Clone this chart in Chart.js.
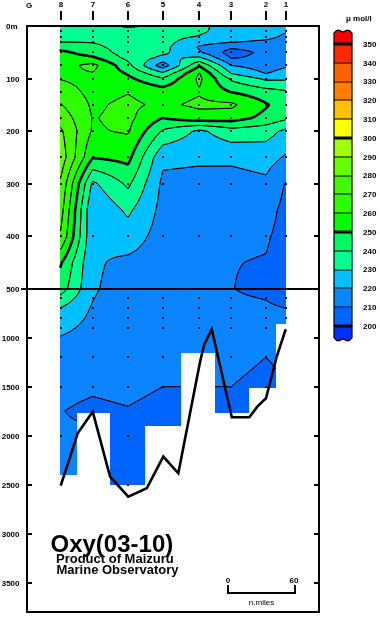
<!DOCTYPE html>
<html><head><meta charset="utf-8">
<script src="https://cdn.jsdelivr.net/npm/chart.js@4/dist/chart.umd.min.js"></script>
<style>html,body{margin:0;padding:0;background:#fff}canvas{display:block}</style>
</head><body>
<canvas id="c" width="380" height="619"></canvas>
<script>
// ---------------- data ----------------
const stationNames = ['8','7','6','5','4','3','2','1'];
const stationDist = [0, 27.7, 58.3, 88.3, 120.0, 147.7, 177.7, 194.6];      // n.miles from station 8
const stationMaxDepth = [2400, 1770, 2500, 1900, 1160, 1765, 1510, 863];    // m
const levels = [0,10,20,30,40,50,60,75,90,100,125,150,175,200,250,300,350,400,450,500,600,700,800,900,1000,1200,1500,1750,2000,2500];
const oxySt8 = [236,237,238,239.6,246,252,254,256,258,259.5,265,270.5,276,281.5,286,278.5,274,269,251,245,237,229.5,226,222.5,219.5,216,212,210.2,211,212];
const oxySt7 = [235,235.5,237,239.5,242,246,251,263,259.5,256.5,257,258.5,259.5,259,250.5,228,220.5,221,221.2,221,220.3,219,218,217,216,214,211,208.5,211,211.5];
const oxySt6 = [228,236,237,237,236,235,237,243,249,252,259.5,262,262.5,261,253,242,232,225,218,216,214.5,214,213.5,213,213,212.5,212,209.5,208.5,208];
const oxySt5 = [233,233,233.5,233.5,233,232,228,214,232,241,255,258,250,239,222,218,217,216,215.5,215,214.5,214,214,213.5,213.5,213,210,207.5,207,207];
const oxySt4 = [232,231.5,229.5,224,219,221,231,249,260.5,262,259,262,256,228,221.5,217,216,215.5,215,214.5,214,214,213.5,213,213,212,210,208,208,208];
const oxySt3 = [226,226,225.5,221,212,205.5,209,220,229.5,238,249.5,262,254.5,236,222,216,213,211.5,210.3,210.2,211,211.5,212,212,212,211.5,210,208,208,208];
const oxySt2 = [226,225,223.5,218,214,212.5,212.5,215,219.5,228,244,251,247,234,224,218,213.5,211,209.5,208,209.8,211,211.5,211.5,211,210,208.5,208,208,208];
const oxySt1 = [224,221,218,216,215,213.5,214,218.5,224,228.5,241,245,242,228,219,209.5,207.5,207,206.5,206,208,210,211,211.5,211.5,211,210,208,208,208];
const sampleDepths = [10,20,30,50,75,100,125,150,175,200,250,300,400,500,600,700,800,900,1200,1500,2000,2500];
const bottomDist  = [0, 14.7, 27.7, 42.7, 58.5, 74.5, 88.8, 101.8, 120.6, 124.1, 130.7, 148.1, 163.3, 170.2, 177.7, 187.0, 194.8];
const bottomDepth = [2510, 1976, 1755, 2418, 2622, 2537, 2214, 2384, 1248, 1074, 914, 1812, 1812, 1704, 1618, 1194, 914];
const contourLevels = [200,210,220,230,240,250,260,270,280,290,300,310,320,330,340,350];
const thickLevels = [200,250,300,350];
const bandColors = ['#0030FF','#0064FF','#0A84FF','#00C0FF','#00FF90','#00F860','#00FF00','#2CFF00','#44F800','#66FF00','#A0FF00','#FFFF00','#FFC000','#FF8000','#FF6000','#FF2800','#FF0000'];
const depthTicks = [0,100,200,300,400,500,1000,1500,2000,2500,3000,3500];
const scaleBarStart = 143.7, scaleBarLength = 60;

// ---------------- split depth scale ----------------
const K = 0.1865;
const warp = d => d <= 500 ? d : 500 + (d - 500) * K;
const unwarp = u => u <= 500 ? u : 500 + (u - 500) / K;
const BaseLinear = Chart.LinearScale || Chart.registry.getScale('linear');
class SplitDepthScale extends BaseLinear {
  getPixelForValue(value) {
    const a = warp(this.min), b = warp(this.max);
    return this.top + (warp(value) - a) / (b - a) * (this.bottom - this.top);
  }
  getValueForPixel(pixel) {
    const a = warp(this.min), b = warp(this.max);
    return unwarp(a + (pixel - this.top) / (this.bottom - this.top) * (b - a));
  }
}
SplitDepthScale.id = 'splitDepth';
SplitDepthScale.defaults = BaseLinear.defaults;
Chart.register(SplitDepthScale);

const FONT = '"Liberation Sans", Arial, sans-serif';

function hexRgb(h){return [parseInt(h.slice(1,3),16),parseInt(h.slice(3,5),16),parseInt(h.slice(5,7),16)];}

const sectionPlugin = {
  id: 'section',
  beforeDatasetsDraw(chart) {
    const {ctx, chartArea: ca, scales} = chart;
    const xs = scales.x, ys = scales.y;
    const profiles = [oxySt8, oxySt7, oxySt6, oxySt5, oxySt4, oxySt3, oxySt2, oxySt1];
    const n = stationDist.length, L = levels.length;
    const sx = stationDist.map(d => xs.getPixelForValue(d));
    const ly = levels.map(d => ys.getPixelForValue(d));
    const colL = sx.map((x,k) => k === 0 ? x - 0.5 : (sx[k-1] + x) / 2);
    const colR = sx.map((x,k) => k === n-1 ? x + 0.5 : (x + sx[k+1]) / 2);
    const colB = stationMaxDepth.map(d => ys.getPixelForValue(d));
    const ox = Math.floor(colL[0]), oy = Math.floor(ca.top);
    const W = Math.ceil(colR[n-1]) - ox + 1;
    const H = Math.ceil(Math.max(...colB)) - oy + 1;
    const F = new Float32Array(W*H), M = new Uint8Array(W*H);
    for (let j = 0; j < H; j++) {
      const py = oy + j + 0.5;
      let lj = 0; while (lj < L-2 && py > ly[lj+1]) lj++;
      let fy = (py - ly[lj]) / (ly[lj+1] - ly[lj]); fy = Math.max(0, Math.min(1, fy));
      let si = 0;
      for (let i = 0; i < W; i++) {
        const px = ox + i + 0.5;
        while (si < n-2 && px > sx[si+1]) si++;
        let fx = (px - sx[si]) / (sx[si+1] - sx[si]); fx = Math.max(0, Math.min(1, fx));
        const p0 = profiles[si], p1 = profiles[si+1];
        const t = p0[lj]*(1-fx) + p1[lj]*fx;
        const b = p0[lj+1]*(1-fx) + p1[lj+1]*fx;
        const k = j*W + i;
        F[k] = t*(1-fy) + b*fy;
        let inside = false;
        if (py >= ca.top) {
          for (let c = 0; c < n; c++) if (px >= colL[c] && px < colR[c]) { inside = py <= colB[c]; break; }
        }
        M[k] = inside ? 1 : 0;
      }
    }
    const off = document.createElement('canvas'); off.width = W; off.height = H;
    const octx = off.getContext('2d'); const img = octx.createImageData(W, H);
    const rgb = bandColors.map(hexRgb);
    for (let k = 0; k < W*H; k++) {
      if (!M[k]) continue;
      let idx = 0; while (idx < contourLevels.length && F[k] >= contourLevels[idx]) idx++;
      const c = rgb[idx];
      img.data[4*k] = c[0]; img.data[4*k+1] = c[1]; img.data[4*k+2] = c[2]; img.data[4*k+3] = 255;
    }
    octx.putImageData(img, 0, 0);
    ctx.drawImage(off, ox, oy);

    // contour lines (marching squares)
    ctx.save();
    ctx.strokeStyle = '#000';
    ctx.lineCap = 'round'; ctx.lineJoin = 'round';
    for (const t of contourLevels) {
      ctx.beginPath();
      for (let j = 0; j < H-1; j++) for (let i = 0; i < W-1; i++) {
        const k = j*W + i;
        if (!M[k] || !M[k+1] || !M[k+W] || !M[k+W+1]) continue;
        const a = F[k], b = F[k+1], c = F[k+W+1], d = F[k+W];
        const idx = (a>=t?8:0)|(b>=t?4:0)|(c>=t?2:0)|(d>=t?1:0);
        if (idx === 0 || idx === 15) continue;
        const x = ox + i + 0.5, y = oy + j + 0.5;
        const T = () => [x + (t-a)/(b-a), y];
        const R = () => [x+1, y + (t-b)/(c-b)];
        const B = () => [x + (t-d)/(c-d), y+1];
        const Lf = () => [x, y + (t-a)/(d-a)];
        const seg = (p, q) => { ctx.moveTo(p[0], p[1]); ctx.lineTo(q[0], q[1]); };
        const center = (a+b+c+d)/4 >= t;
        switch (idx) {
          case 1: case 14: seg(Lf(), B()); break;
          case 2: case 13: seg(B(), R()); break;
          case 3: case 12: seg(Lf(), R()); break;
          case 4: case 11: seg(T(), R()); break;
          case 6: case 9: seg(T(), B()); break;
          case 7: case 8: seg(T(), Lf()); break;
          case 5: if (center) { seg(T(), Lf()); seg(R(), B()); } else { seg(T(), R()); seg(Lf(), B()); } break;
          case 10: if (center) { seg(T(), R()); seg(Lf(), B()); } else { seg(T(), Lf()); seg(R(), B()); } break;
        }
      }
      ctx.lineWidth = thickLevels.includes(t) ? 2.6 : 1;
      ctx.stroke();
    }
    // sample dots
    ctx.fillStyle = '#000';
    for (let s = 0; s < n; s++) {
      for (const d of sampleDepths) {
        if (d > stationMaxDepth[s] + 30) continue;
        const px = Math.round(sx[s]), py = Math.round(ys.getPixelForValue(d));
        ctx.fillRect(px - 1, py - 1, 2, 2);
      }
    }
    ctx.restore();
  },
  afterDraw(chart) {
    const {ctx, chartArea: ca, scales} = chart;
    const xs = scales.x, ys = scales.y;
    ctx.save();
    ctx.fillStyle = '#000';
    const L0 = ca.left - 1, R0 = ca.right - 1, T0 = ca.top - 1, B0 = ca.bottom - 1;
    ctx.fillRect(L0, T0, 2, B0 - T0 + 2);
    ctx.fillRect(R0, T0, 2, B0 - T0 + 2);
    ctx.fillRect(L0, T0, R0 - L0 + 2, 2);
    ctx.fillRect(L0, B0, R0 - L0 + 2, 2);
    // depth ticks and labels
    ctx.font = 'bold 8px ' + FONT;
    ctx.textBaseline = 'middle';
    for (const v of depthTicks) {
      const yy = Math.round(ys.getPixelForValue(v));
      if (v === 500) {
        ctx.fillRect(21, yy - 1, R0 + 2 - 21, 2);
      } else if (v !== 0) {
        ctx.fillRect(ca.left + 1, yy - 1, 4, 2);
        ctx.fillRect(R0 - 4, yy - 1, 4, 2);
      }
      if (v === 0) { ctx.textAlign = 'left'; ctx.fillText('0m', 6, yy + 0.5); }
      else { ctx.textAlign = 'right'; ctx.fillText(String(v), 19.5, yy + 0.5); }
    }
    // station ticks and labels
    ctx.textAlign = 'center';
    stationNames.forEach((nm, k) => {
      const x = Math.round(xs.getPixelForValue(stationDist[k]));
      ctx.fillRect(x - 1, 11, 2, 9);
      ctx.fillText(nm, x, 5);
    });
    ctx.fillText('G', 29, 6);

    // colour bar
    const cbL = 334, cbR = 352;
    const cbY = v => 326 - (v - 200) * 1.88;
    ctx.fillStyle = bandColors[16];
    ctx.beginPath();
    ctx.moveTo(cbL, cbY(350)); ctx.lineTo(cbL, 33);
    ctx.quadraticCurveTo(cbL + 3, 29, cbL + 6, 30.5);
    ctx.quadraticCurveTo(cbL + 9, 33.5, cbL + 12, 30.5);
    ctx.quadraticCurveTo(cbL + 15, 29, cbR, 33);
    ctx.lineTo(cbR, cbY(350)); ctx.closePath(); ctx.fill();
    ctx.lineWidth = 1.2; ctx.strokeStyle = '#000'; ctx.stroke();
    ctx.fillStyle = bandColors[0];
    ctx.beginPath();
    ctx.moveTo(cbL, cbY(200)); ctx.lineTo(cbL, 338);
    ctx.quadraticCurveTo(cbL + 3, 342, cbL + 6, 340.5);
    ctx.quadraticCurveTo(cbL + 9, 337.5, cbL + 12, 340.5);
    ctx.quadraticCurveTo(cbL + 15, 342, cbR, 338);
    ctx.lineTo(cbR, cbY(200)); ctx.closePath(); ctx.fill(); ctx.stroke();
    for (let i = 1; i < contourLevels.length; i++) {
      ctx.fillStyle = bandColors[i];
      const y1 = cbY(contourLevels[i]), y0 = cbY(contourLevels[i-1]);
      ctx.fillRect(cbL, y1, cbR - cbL, y0 - y1);
    }
    ctx.strokeStyle = '#000'; ctx.lineWidth = 1.2;
    ctx.strokeRect(cbL, cbY(350), cbR - cbL, cbY(200) - cbY(350));
    ctx.fillStyle = '#000';
    ctx.textAlign = 'left';
    for (const v of contourLevels) {
      const y = cbY(v);
      const th = thickLevels.includes(v) ? 3 : 1;
      ctx.fillRect(cbL, Math.round(y) - th/2, cbR - cbL, th);
      ctx.fillText(String(v), 363, y + 0.5);
    }
    ctx.fillText('\u03bc mol/l', 346, 19);

    // scale bar
    const sb0 = Math.round(xs.getPixelForValue(scaleBarStart));
    const sb1 = Math.round(xs.getPixelForValue(scaleBarStart + scaleBarLength));
    ctx.fillRect(sb0, 585, 2, 9);
    ctx.fillRect(sb1 - 2, 585, 2, 9);
    ctx.fillRect(sb0, 592, sb1 - sb0, 2);
    ctx.textAlign = 'center';
    ctx.fillText('0', sb0 + 1, 580.5);
    ctx.fillText(String(scaleBarLength), sb1 - 2, 580.5);
    ctx.font = '8px ' + FONT;
    ctx.fillText('n.miles', (sb0 + sb1) / 2, 602.5);

    // titles
    ctx.textAlign = 'left'; ctx.textBaseline = 'alphabetic';
    ctx.font = 'bold 24px ' + FONT;
    ctx.fillText('Oxy(03-10)', 50.5, 552);
    ctx.font = 'bold 13px ' + FONT;
    ctx.fillText('Product of Maizuru', 56, 562.5);
    ctx.fillText('Marine Observatory', 56.5, 573.5);
    ctx.restore();
  }
};

new Chart(document.getElementById('c'), {
  type: 'line',
  data: {
    datasets: [{
      label: 'Bottom',
      data: bottomDist.map((d, i) => ({x: d, y: bottomDepth[i]})),
      borderColor: '#000', borderWidth: 2.6, pointRadius: 0, fill: false, tension: 0
    }]
  },
  options: {
    responsive: false, animation: false, devicePixelRatio: 1,
    layout: {padding: {left: 27, top: 26, right: 61, bottom: 7}},
    plugins: {legend: {display: false}, tooltip: {enabled: false}},
    scales: {
      x: {type: 'linear', min: -29.2, max: 223.6, display: false},
      y: {type: 'splitDepth', min: 0, max: 3800, display: false}
    }
  },
  plugins: [sectionPlugin]
});
</script>
</body></html>
